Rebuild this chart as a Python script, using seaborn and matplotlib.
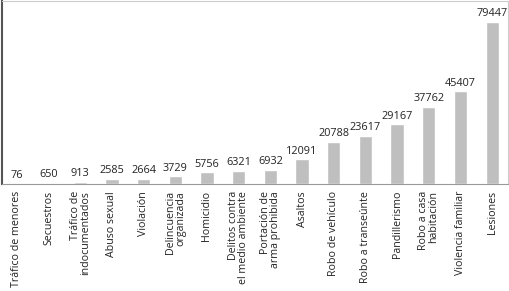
import matplotlib
matplotlib.use("Agg")
import matplotlib.pyplot as plt
import seaborn as sns
import pandas as pd
import numpy as np

categories = [
    "Tráfico de menores", "Secuestros", "Tráfico de\nindocumentados", "Abuso sexual",
    "Violación", "Delincuencia\norganizada", "Homicidio", "Delitos contra\nel medio ambiente",
    "Portación de\narma prohibida", "Asaltos", "Robo de vehículo", "Robo a transeúnte",
    "Pandillerismo", "Robo a casa\nhabitación", "Violencia familiar", "Lesiones",
]
values = [76, 650, 913, 2585, 2664, 3729, 5756, 6321, 6932, 12091, 20788, 23617,
          29167, 37762, 45407, 79447]

sns.set_style("white")
plt.rcParams["font.family"] = ["Open Sans", "DejaVu Sans"]

df = pd.DataFrame({"cat": categories, "val": values})

fig = plt.figure(figsize=(5.1, 2.91), dpi=100)
ax = fig.add_axes([2 / 510, 107 / 291, 506 / 510, 183 / 291])
sns.barplot(data=df, x="cat", y="val", color="#bfbfbf", saturation=1, width=0.42, ax=ax)

for i, v in enumerate(values):
    ax.text(i, v + 1300, str(v), ha="center", va="bottom", fontsize=7.8, color="#222222")

ax.set_xlim(-0.47, 15.44)
ax.set_ylim(0, 89700)
ax.set_yticks([])
ax.set_xlabel("")
ax.set_ylabel("")
ax.set_xticks(range(len(categories)))
ax.set_xticklabels(categories, rotation=90, fontsize=7.7, color="#222222",
                   ha="center", va="top", multialignment="right", linespacing=0.9)
ax.tick_params(axis="x", which="major", length=0, pad=5)
ax.set_xticks(np.arange(0.5, len(categories), 1), minor=True)
ax.tick_params(axis="x", which="minor", length=3, width=0.6, color="#999999", direction="out")

for s, c, w in [("left", "#555555", 1.5), ("top", "#cccccc", 0.8),
                ("right", "#cccccc", 0.8), ("bottom", "#999999", 0.8)]:
    ax.spines[s].set_visible(True)
    ax.spines[s].set_color(c)
    ax.spines[s].set_linewidth(w)

fig.savefig("out.png", dpi=100)
